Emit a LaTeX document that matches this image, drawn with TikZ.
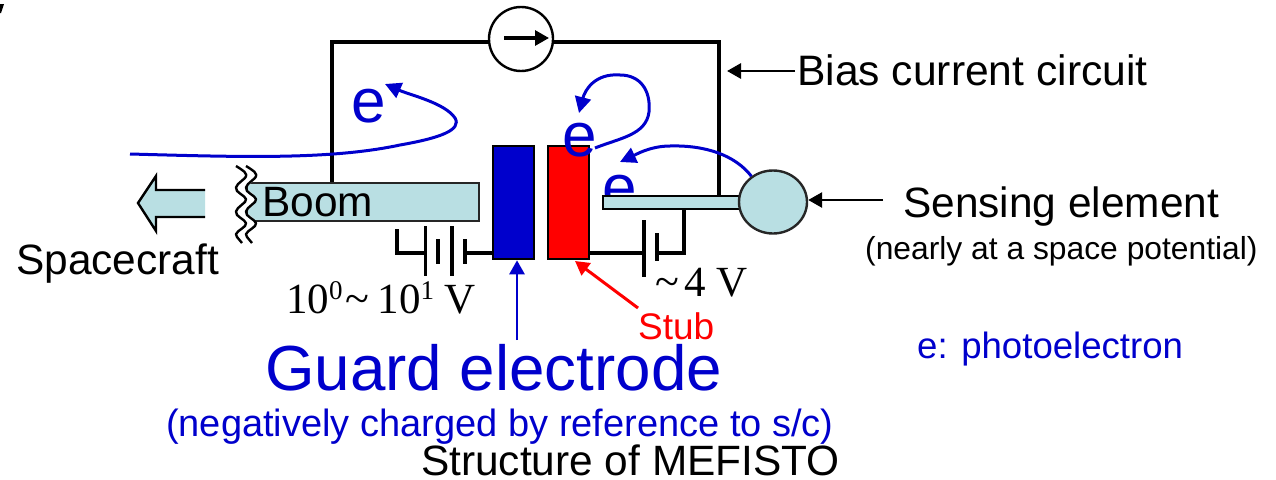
\documentclass[tikz,border=0pt]{standalone}
\usepackage{fontspec}
\setmainfont{Liberation Sans}
\newfontfamily\timesf{Liberation Serif}
\usetikzlibrary{arrows.meta,calc,shapes.geometric}
\definecolor{lblue}{HTML}{B9DFE3}
\definecolor{eblue}{HTML}{0000CC}
\definecolor{sred}{HTML}{FF0000}
\newcommand{\fs}[1]{\fontsize{#1pt}{#1pt}\selectfont}
\newcommand{\wig}[1]{({236+#1},166) .. controls ({242+#1},170) and ({249+#1},173) .. ({245+#1},178) .. controls ({241+#1},182) and ({233+#1},186) .. ({237+#1},191) .. controls ({241+#1},195) and ({249+#1},198) .. ({245+#1},202) .. controls ({241+#1},206) and ({233+#1},210) .. ({237+#1},215) .. controls ({241+#1},219) and ({249+#1},222) .. ({245+#1},226) .. controls ({241+#1},230) and ({233+#1},233) .. ({237+#1},237) -- ({242+#1},243)}
\tikzset{
  x=1pt,y=-1pt,
  wire/.style={draw=black,line width=3.05pt},
  thinwire/.style={draw=black,line width=3.05pt},
  lbl/.style={inner sep=0pt,text=black,anchor=base west},
  elec/.style={inner sep=0pt,text=eblue,anchor=base,font=\fs{62}},
  tipk/.style={-{Triangle[length=14pt,width=15pt]}},
  blueline/.style={draw=eblue,line width=3pt,-{Triangle[length=16pt,width=16pt]}},
  plate/.style={draw=black,line width=3.2pt},
  body/.style={draw=black!85,line width=2.4pt,fill=lblue}
}
\begin{document}
\begin{tikzpicture}
\useasboundingbox (0,0) rectangle (1276,479);
\fill[black] (0,4) -- (4,4) -- (1,13) -- (0,13) -- cycle;
% circuit wires
\coordinate (wl) at (332,183);
\coordinate (wr) at (719,195);
\node[draw=black,line width=2.4pt,fill=white,circle,minimum size=64pt,inner sep=0pt] (amm) at (521,39) {};
\draw[wire] (wl) -- (332,42) -- (amm.west |- 332,42);
\draw[wire] (amm.east |- 332,42) -- (719,42) -- (wr);
\coordinate (aml) at (504,38); \coordinate (amr) at (549,38);
\draw[wire,-{Triangle[length=14pt,width=15pt]}] (aml) -- (amr);
% electron letters behind
\node[elec] (e1) at (369,122) {e};
\node[elec] (e3) at (620,208) {e};
% stub, guard
\node[draw=black,line width=2.6pt,fill=eblue,minimum width=41pt,minimum height=113pt,inner sep=0pt] (guard) at (513.5,202.5) {};
\node[draw=black,line width=2.6pt,fill=sred,minimum width=41pt,minimum height=113pt,inner sep=0pt] (stub) at (568.5,202.5) {};
\node[elec] (e2) at (580,156) {e};
% boom
\node[body,minimum width=232pt,minimum height=38pt,inner sep=0pt] (boom) at (363,202) {};
\node[lbl,font=\fs{42.4}] (boomt) at (262,216) {Boom};
% break
\draw[line width=9pt,draw=white] \wig{5};
\draw[line width=2.4pt,draw=black,line join=round] \wig{0};
\draw[line width=2.4pt,draw=black,line join=round] \wig{10};
% spacecraft arrow
\coordinate (sc1) at (205,190);\coordinate (sc2) at (205,217);
\fill[lblue] (sc1) -- (156,190) -- (156,176) -- (138,203) -- (156,231) -- (156,217) -- (sc2) -- cycle;
\draw[line width=2.4pt,line join=miter] (sc1) -- (156,190) -- (156,176) -- (138,203) -- (156,231) -- (156,217) -- (sc2);
% left battery
\coordinate (lb) at (397,229);
\draw[thinwire] (lb) -- (397,253) -- (425,253);
\draw[plate] (425.5,226) -- (425.5,276);
\draw[plate] (438,239) -- (438,264);
\draw[plate] (452,226) -- (452,276);
\draw[plate] (465,239) -- (465,264);
\draw[thinwire] (465,253) -- (guard.west |- 465,253);
% right battery
\draw[thinwire] (stub.east |- 589,253) -- (644,253);
\draw[plate] (644,220) -- (644,277);
\draw[plate] (657,233) -- (657,261);
\draw[thinwire] (657,253) -- (684,253) -- (684,209);
% rod & sphere
\node[draw=black,line width=2.4pt,fill=lblue,minimum width=139pt,minimum height=13pt,inner sep=0pt] (rod) at (672.5,202.5) {};
\node[body,ellipse,minimum width=68pt,minimum height=63pt,inner sep=0pt] (sphere) at (773,202) {};
% electron paths
\coordinate (p1s) at (130,154);
\coordinate (p1e) at (385,84);
\draw[blueline] (p1s) .. controls (240,157) and (330,160) .. (400,145) .. controls (440,138) and (462,130) .. (455,118) .. controls (445,103) and (410,95) .. (p1e);
\coordinate (p2s) at (595,148);
\coordinate (p2e) at (579,113);
\draw[blueline] (p2s) .. controls (620,138) and (646,135) .. (649,112) .. controls (651,90) and (640,75) .. (620,75) .. controls (595,73) and (585,90) .. (p2e);
\coordinate (p3e) at (620,162);
\draw[blueline] (sphere.130) .. controls (735,155) and (705,145) .. (670,146) .. controls (650,146) and (635,155) .. (p3e);
% pointers
\coordinate (bi) at (795,71); \coordinate (bt) at (727,71);
\draw[line width=2.8pt,tipk] (bi) -- (bt);
\coordinate (si) at (883,200);
\draw[line width=2.8pt,tipk] (si) -- (sphere.east |- si);
\coordinate (gs) at (517,340);
\draw[draw=eblue,line width=2.6pt,tipk] (gs) -- (guard.south -| gs);
\coordinate (st) at (638,308);
\draw[draw=sred,line width=3pt,tipk] (st) -- (575,261);
% labels
\node[lbl,font=\fs{42.6}] (t1) at (797,85) {Bias current circuit};
\node[lbl,font=\fs{42.4}] (t2) at (903,217) {Sensing element};
\node[lbl,font=\fs{31.8}] (t3) at (865,259) {(nearly at a space potential)};
\node[lbl,font=\fs{42.4}] (t4) at (16,274) {Spacecraft};
\node[lbl,font=\fs{36.6},text=eblue] (t5) at (917,358) {e: photoelectron};
\node[lbl,font=\fs{37},text=sred] (t6) at (638,339) {Stub};
\node[lbl,font=\fs{63.7},text=eblue] (t7) at (265,390) {Guard electrode};
\node[lbl,font=\fs{38},text=eblue] (t8) at (166,436) {(negatively charged by reference to s/c)};
\node[lbl,font=\fs{42.4}] (t9) at (421,475) {Structure of MEFISTO};
\node[lbl,font={\timesf\fs{43}}] (t10) at (286,313) {10\raisebox{14pt}{\fs{27}0}\hspace{3pt}{\fs{44}\char"7E}\hspace{8pt}10\raisebox{14pt}{\fs{27}1} V};
\node[lbl,font={\timesf\fs{43}}] (t11) at (655,296) {{\fs{44}\char"7E}\hspace{5pt}4 V};
\end{tikzpicture}
\end{document}
